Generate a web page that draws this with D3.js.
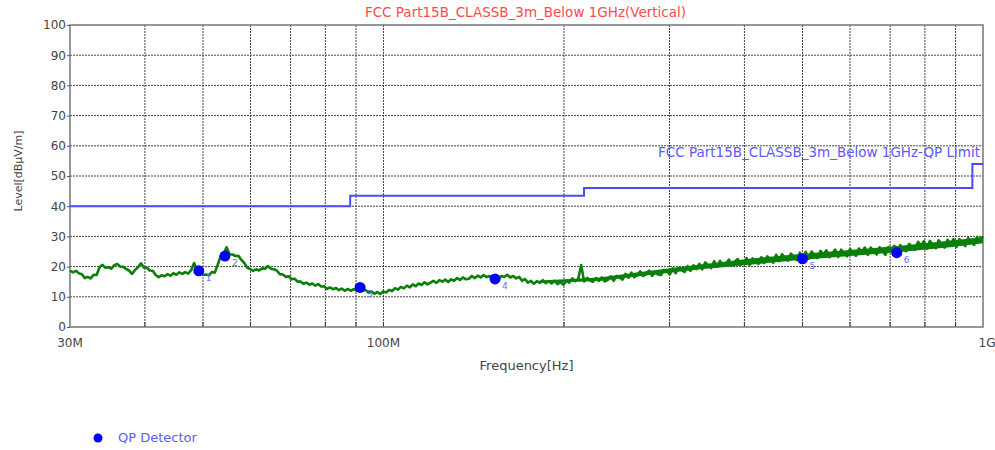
<!DOCTYPE html>
<html>
<head>
<meta charset="utf-8">
<script src="https://cdnjs.cloudflare.com/ajax/libs/d3/7.8.5/d3.min.js"></script>
<style>
  body { margin: 0; background: #fff; }
  svg text { font-family: "DejaVu Sans", Verdana, sans-serif; }
</style>
</head>
<body>
<script>
const title = "FCC Part15B_CLASSB_3m_Below 1GHz(Vertical)";
const limitName = "FCC Part15B_CLASSB_3m_Below 1GHz-QP Limit";

// limit steps [MHz from, MHz to, dBuV/m]
const limitFreq = [30, 88, 88, 216, 216, 960, 960, 1000];
const limitLevel = [40, 40, 43.5, 43.5, 46, 46, 54, 54];

// QP detector readings
const qpFreq = [49.2, 54.4, 91.4, 153.5, 500, 718];
const qpLevel = [18.6, 23.5, 13.1, 15.9, 22.6, 24.6];
const qpLabel = ["1", "2", "3", "4", "5", "6"];

const yTicks = [0, 10, 20, 30, 40, 50, 60, 70, 80, 90, 100];
const xGrid = [40, 50, 60, 70, 80, 90, 100, 200, 300, 400, 500, 600, 700, 800, 900];
const xLabels = [[30, "30M"], [100, "100M"], [1000, "1G"]];

const traceLevel = [
  18.7,18.1,18.6,17.8,17.5,16.2,16.6,16.1,17.3,17.2,
  19.8,20.6,19.6,19.8,19.3,20.5,20.9,20.0,19.9,19.2,
  18.7,17.6,18.9,19.8,21.1,19.7,19.6,18.7,18.6,17.2,
  16.5,17.1,16.8,17.5,17.0,17.8,17.3,18.1,17.6,18.2,
  17.7,18.8,21.2,18.7,18.4,17.3,17.4,17.1,18.2,18.0,
  20.6,23.5,24.2,26.4,24.1,24.0,23.5,23.6,22.2,21.2,
  19.6,19.2,18.6,19.1,18.7,19.4,19.3,20.2,19.3,19.1,
  18.7,17.5,17.4,16.6,16.8,15.8,16.0,15.0,15.1,14.3,
  14.7,14.0,14.4,13.7,14.2,13.4,13.5,12.6,13.1,12.5,
  12.9,12.2,12.7,12.0,12.6,12.0,12.5,12.1,12.9,12.0,
  12.3,11.4,11.8,11.0,11.6,10.9,11.8,11.4,12.3,11.9,
  12.9,12.4,13.3,12.8,13.7,13.1,14.1,13.5,14.4,13.9,
  14.8,14.1,14.7,15.3,14.6,15.5,15.0,15.7,14.9,15.8,
  15.3,16.2,15.6,16.4,15.8,16.0,16.9,16.2,17.0,16.4,
  17.2,16.5,16.9,16.0,16.5,15.8,16.9,16.6,17.3,16.4,
  16.9,16.1,16.6,15.3,15.9,14.7,15.3,14.3,15.2,14.6,
  15.5,14.5,15.2,14.4,15.3,14.2,14.9,14.0,15.3,14.7,
  16.1,15.2,15.9,20.5,15.1,16.3,15.4,15.0,16.2,15.3,
  16.4,15.1,15.6,16.8,15.3,16.9,16.4,15.7,17.6,16.3,
  18.0,16.5,17.3,18.4,16.9,17.6,18.7,16.9,18.1,17.4,
  17.2,18.9,18.4,17.4,19.4,17.8,19.6,18.9,18.2,20.2,
  18.6,20.4,19.2,20.9,19.1,21.4,20.3,19.5,21.8,20.0,
  21.9,20.2,21.0,22.3,20.4,21.7,22.5,20.6,21.3,22.8,
  20.5,22.7,21.5,20.9,23.1,21.2,23.4,22.5,21.3,23.9,
  21.8,24.1,22.9,22.0,24.3,23.1,22.2,24.6,22.7,24.9,
  22.6,25.0,23.9,22.8,25.2,24.0,25.4,23.1,24.5,25.6,
  23.2,25.6,24.3,23.4,25.8,24.6,23.6,26.0,24.9,26.3,
  23.9,26.3,25.2,24.0,26.4,25.1,23.9,26.5,25.5,26.9,
  24.5,27.1,25.9,25.1,27.5,26.4,25.6,28.2,27.0,28.4,
  25.9,28.5,27.3,26.1,28.7,27.5,26.3,28.9,27.6,29.1,
  26.5,29.1,27.9,26.8,29.4,28.2,27.2,29.8,28.7,30.0
];

// solid body of the noise band above ~180 MHz (MHz, low dB, high dB)
const bandFreq = [182, 229, 278, 338, 408, 495, 600, 728, 881, 1000];
const bandLow  = [14.6, 15.2, 17.2, 19.1, 20.6, 22.2, 23.5, 24.8, 26.4, 27.7];
const bandHigh = [15.4, 16.4, 18.6, 20.7, 22.6, 24.2, 25.5, 26.9, 28.6, 29.8];

const W = 995, H = 450;
const margin = { top: 25, left: 70, right: 12, bottom: 123 };
const width = W - margin.left - margin.right;
const height = H - margin.top - margin.bottom;

const svg = d3.select("body").append("svg")
  .attr("width", W).attr("height", H);

const chart = svg.append("g")
  .attr("transform", "translate(" + margin.left + "," + margin.top + ")");

const x = d3.scaleLog().domain([30, 1000]).range([0, width]);
const y = d3.scaleLinear().domain([0, 100]).range([height, 0]);

// sample position of trace point i
const idx = d3.scaleLinear().domain([0, traceLevel.length - 1]).range([0, width]);

// grid
chart.selectAll(".hgrid").data(yTicks.slice(1, -1)).enter().append("line")
  .attr("x1", 0).attr("x2", width)
  .attr("y1", d => y(d)).attr("y2", d => y(d))
  .attr("stroke", "#444").attr("stroke-width", 1).attr("stroke-dasharray", "2,1");
chart.selectAll(".vgrid").data(xGrid).enter().append("line")
  .attr("x1", d => x(d)).attr("x2", d => x(d))
  .attr("y1", 0).attr("y2", height)
  .attr("stroke", "#444").attr("stroke-width", 1).attr("stroke-dasharray", "2,1");

// small ticks along the bottom
chart.selectAll(".btick").data(xGrid).enter().append("line")
  .attr("x1", d => x(d)).attr("x2", d => x(d))
  .attr("y1", height).attr("y2", height - 5)
  .attr("stroke", "#333");

// frame
chart.append("rect")
  .attr("width", width).attr("height", height)
  .attr("fill", "none").attr("stroke", "#777").attr("stroke-width", 1.5);

// y axis labels
const yAxis = d3.axisLeft(y).tickValues(yTicks).tickSize(3).tickPadding(1);
const gy = chart.append("g").call(yAxis);
gy.select(".domain").remove();
gy.selectAll("line").attr("stroke", "#555");
gy.selectAll("text").attr("font-size", 12).attr("fill", "#444")
  .style("font-family", "'DejaVu Sans', Verdana, sans-serif");

// x labels
chart.selectAll(".xlab").data(xLabels).enter().append("text")
  .attr("x", d => x(d[0]) + (d[0] === 1000 ? 4 : 0))
  .attr("y", height + 20)
  .attr("text-anchor", "middle")
  .attr("font-size", 12).attr("fill", "#444")
  .text(d => d[1]);

// axis titles
svg.append("text")
  .attr("x", margin.left + width / 2).attr("y", 370)
  .attr("text-anchor", "middle").attr("font-size", 13).attr("fill", "#444")
  .text("Frequency[Hz]");
svg.append("text")
  .attr("transform", "translate(22," + (margin.top + height / 2 - 5) + ") rotate(-90)")
  .attr("text-anchor", "middle").attr("font-size", 11).attr("fill", "#444")
  .text("Level[dBµV/m]");

// title
svg.append("text")
  .attr("x", margin.left + width / 2 - 1).attr("y", 17)
  .attr("text-anchor", "middle").attr("font-size", 13.5).attr("fill", "#ff4a4a")
  .text(title);

// limit line
const limitPts = limitFreq.map((f, i) => [f, limitLevel[i]]);
chart.append("path")
  .datum(limitPts)
  .attr("fill", "none").attr("stroke", "#4a4aff").attr("stroke-width", 2)
  .attr("d", d3.line().x(d => x(d[0])).y(d => y(d[1])));
chart.append("text")
  .attr("x", width - 3).attr("y", y(46) - 31)
  .attr("text-anchor", "end").attr("font-size", 13.5).attr("fill", "#5a5aff")
  .text(limitName);

// trace: solid band body, then the noisy peak line on top
chart.append("path")
  .datum(bandFreq.map((f, i) => [f, bandLow[i], bandHigh[i]]))
  .attr("fill", "#0a800a")
  .attr("d", d3.area().x(d => x(d[0])).y0(d => y(d[1])).y1(d => y(d[2])));
chart.append("path")
  .datum(traceLevel)
  .attr("fill", "none").attr("stroke", "#0a800a").attr("stroke-width", 2.6)
  .attr("stroke-linejoin", "round")
  .attr("d", d3.line().x((d, i) => idx(i)).y(d => y(d)));

// QP markers
chart.selectAll(".qp").data(qpFreq).enter().append("circle")
  .attr("cx", d => x(d)).attr("cy", (d, i) => y(qpLevel[i]))
  .attr("r", 5.5).attr("fill", "#0000ff");
chart.selectAll(".qplab").data(qpFreq).enter().append("text")
  .attr("x", d => x(d) + 7).attr("y", (d, i) => y(qpLevel[i]) + 10)
  .attr("font-size", 9).attr("fill", "#6a6aff")
  .text((d, i) => qpLabel[i]);

// legend
svg.append("circle").attr("cx", 98).attr("cy", 438).attr("r", 4.5).attr("fill", "#0000ff");
svg.append("text").attr("x", 118).attr("y", 442)
  .attr("font-size", 13).attr("fill", "#5a5aff").text("QP Detector");
</script>
</body>
</html>
